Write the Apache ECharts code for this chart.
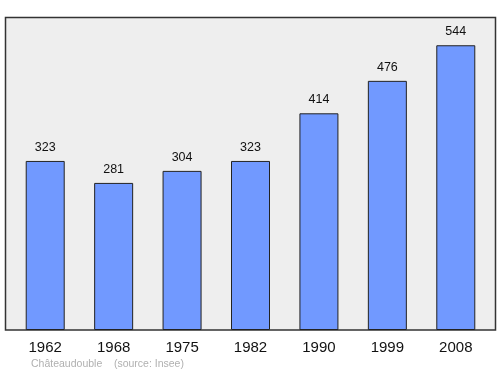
<!DOCTYPE html>
<html><head><meta charset="utf-8">
<script src="https://cdn.jsdelivr.net/npm/echarts@6/dist/echarts.min.js"></script>
<style>html,body{margin:0;padding:0;background:#fff}#c{width:500px;height:374px}</style>
</head><body><div id="c"></div>
<script>
var years = ['1962','1968','1975','1982','1990','1999','2008'];
var population = [323,281,304,323,414,476,544];
var sourceText = 'Châteaudouble    (source: Insee)';

var FONT = '"Liberation Sans", Arial, sans-serif';
var chart = echarts.init(document.getElementById('c'), null, {renderer:'canvas'});
chart.setOption({
  animation:false,
  grid:{left:11,right:10,top:17,bottom:44},
  graphic:[
    {type:'rect', z:-10, shape:{x:5.5,y:17.5,width:490,height:312.5},
     style:{fill:'#eeeeee', stroke:'#333333', lineWidth:1.5}},
    {type:'text', left:31, top:359, style:{text:sourceText, fill:'#b0b0b0', font:'10.5px "Liberation Sans", Arial, sans-serif'}}
  ],
  xAxis:{type:'category', data:years,
    axisLine:{show:false}, axisTick:{show:false},
    axisLabel:{color:'#111', fontSize:15, margin:10, fontFamily:FONT}},
  yAxis:{type:'value', min:0, max:598, show:false, splitLine:{show:false}},
  series:[{type:'bar', data:population, barWidth:39,
    itemStyle:{color:'#7199ff', borderColor:'#222', borderWidth:1},
    label:{show:true, position:'top', distance:7, color:'#111', fontSize:12.5, fontFamily:FONT}}]
});
</script></body></html>
